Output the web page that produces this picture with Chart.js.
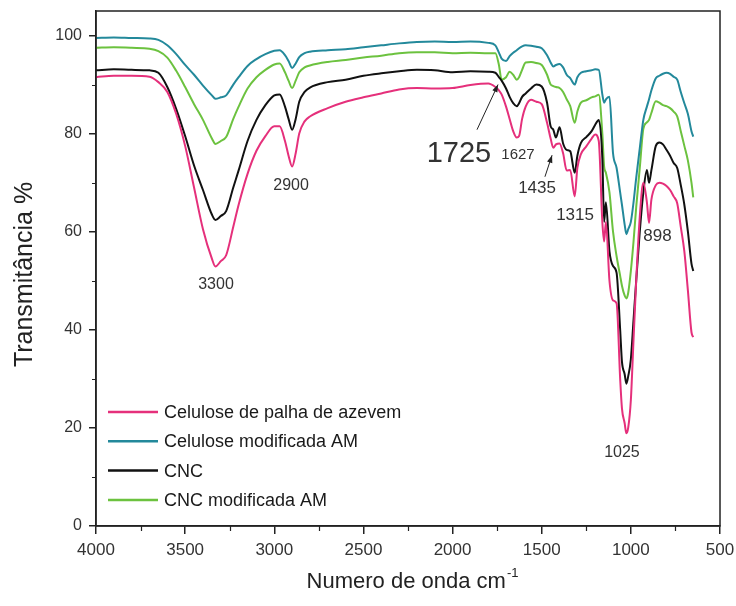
<!DOCTYPE html>
<html>
<head>
<meta charset="utf-8">
<style>
  html, body { margin: 0; padding: 0; background: #ffffff; }
  #wrap { width: 736px; height: 606px; }
</style>
<script src="https://cdn.jsdelivr.net/npm/chart.js@4.4.1/dist/chart.umd.min.js"></script>
</head>
<body>
<div id="wrap"><canvas id="ftir" width="736" height="606"></canvas></div>
<script>
// FTIR spectra: wavenumber (cm-1) and transmittance (%) for each sample
const wavenumbers = [
  4000, 3900, 3800, 3700, 3650, 3600, 3550, 3500, 3450, 3400,
  3350, 3330, 3300, 3270, 3230, 3200, 3150, 3100, 3050, 3000,
  2970, 2940, 2920, 2900, 2880, 2860, 2830, 2800,
  2700, 2600, 2500, 2400, 2300, 2200, 2100, 2000, 1900, 1800,
  1760, 1740, 1725, 1700, 1680, 1660, 1640, 1627, 1610, 1590,
  1560, 1530, 1500, 1470, 1450, 1435, 1420, 1400, 1380, 1360,
  1340, 1315, 1300, 1280, 1250, 1220, 1200, 1180, 1160, 1150,
  1140, 1120, 1100, 1080, 1060, 1050, 1035, 1025, 1015, 1000,
  985, 970, 950, 930, 910, 898, 885, 860, 840, 820,
  800, 780, 760, 740, 720, 700, 680, 660, 650
];

const celulosePalha = [
  91.5, 91.8, 91.8, 91.6, 90.5, 88.5, 84.0, 77.5, 69.0, 60.5,
  54.5, 52.9, 54.0, 55.2, 61.0, 65.5, 71.8, 76.5, 79.5, 81.5,
  81.5, 78.5, 75.5, 73.3, 76.0, 80.0, 82.5, 83.5,
  85.2, 86.5, 87.4, 88.2, 89.0, 89.3, 89.2, 89.3, 89.9, 90.2,
  89.5, 88.8, 88.0, 85.5, 83.0, 80.5, 79.2, 79.5, 83.0, 85.5,
  86.9, 86.5, 86.0, 82.2, 79.0, 77.1, 77.8, 78.0, 76.0, 72.5,
  72.6, 67.2, 73.0, 75.8, 77.4, 79.0, 79.8, 78.5, 62.0, 58.0,
  62.0, 50.0, 46.0, 45.4, 30.0, 24.0, 21.0, 18.9, 20.0, 25.7,
  38.0, 50.0, 63.0, 70.0, 66.0, 61.8, 66.5, 69.5, 70.0, 69.8,
  69.3, 68.5, 67.2, 65.8, 61.0, 56.0, 48.0, 39.5, 38.5
];

const celuloseModificada = [
  99.5, 99.6, 99.5, 99.4, 99.1, 98.0, 96.2, 94.0, 92.0, 89.8,
  87.8, 87.1, 87.4, 87.8, 90.0, 91.5, 93.8, 95.2, 96.2, 96.9,
  97.0, 96.0, 94.8, 93.4, 94.3, 95.6, 96.4, 96.7,
  97.0, 97.2, 97.6, 98.0, 98.4, 98.7, 98.8, 98.7, 98.8, 98.5,
  98.0, 96.5, 95.3, 94.8, 95.8, 96.5, 97.0, 97.4, 97.8, 98.0,
  97.9, 97.7, 97.4, 96.0, 94.5, 93.7, 94.0, 94.2, 93.5, 92.0,
  91.3, 90.0, 91.5, 92.4, 92.7, 92.9, 93.1, 93.0, 88.0, 86.3,
  87.0, 87.5, 76.0, 73.0, 68.0, 65.5, 61.5, 59.5, 60.5, 62.0,
  66.0, 71.0, 77.0, 82.8, 85.5, 87.0, 88.8, 91.3, 91.8, 92.2,
  92.4, 92.2, 91.6, 91.0, 88.5, 86.2, 84.0, 80.5, 79.4
];

const cnc = [
  92.9, 93.1, 93.0, 92.9, 92.4, 89.5, 85.0, 79.5, 73.5, 68.5,
  63.5, 62.4, 63.2, 64.2, 69.0, 72.5, 78.5, 82.8, 85.8, 87.8,
  88.0, 85.5, 83.0, 80.8, 83.0, 86.5, 88.5, 89.4,
  90.5, 91.0, 91.8, 92.3, 92.7, 93.0, 92.9, 92.5, 92.7, 92.6,
  92.4, 91.5, 90.8, 89.2, 87.5, 86.2, 85.6, 86.2, 87.5, 88.2,
  89.2, 90.0, 89.6, 86.3, 81.5, 80.8, 79.2, 81.3, 78.0, 76.7,
  76.4, 72.0, 75.5, 78.1, 79.3, 80.5, 81.8, 82.8, 75.0, 62.0,
  66.0, 56.0, 53.0, 51.6, 40.0, 33.5, 31.0, 29.0, 30.5, 34.0,
  42.0, 50.0, 60.0, 68.0, 72.6, 70.0, 72.5, 77.5, 78.2, 77.8,
  76.7, 75.5, 74.0, 73.0, 69.5, 65.5, 60.0, 53.5, 52.0
];

const cncModificada = [
  97.5, 97.6, 97.5, 97.3, 96.8, 95.5, 92.8, 89.5, 86.0, 82.8,
  79.0, 77.9, 78.5, 79.3, 83.0, 85.5, 89.2, 91.5, 93.0, 94.1,
  94.3, 92.5, 90.8, 89.3, 90.8, 92.5, 93.5, 93.9,
  94.6, 95.0, 95.5, 95.9, 96.4, 96.6, 96.6, 96.4, 96.5, 96.4,
  96.4, 94.0, 91.0, 91.5, 92.6, 92.0, 91.0, 91.5, 93.0, 94.5,
  94.6, 94.4, 94.0, 92.0, 90.0, 89.7, 89.5, 89.3, 88.5, 87.0,
  85.6, 82.2, 84.5, 86.3, 86.8, 87.4, 87.6, 87.9, 80.0, 73.3,
  72.0, 68.0, 60.0, 55.0, 51.0, 49.0, 47.0, 46.4, 47.5, 52.0,
  58.0, 65.0, 73.0, 81.0, 82.3, 82.8, 84.2, 86.6, 86.3, 85.8,
  85.6, 85.2, 84.5, 83.5, 80.5, 77.5, 74.5, 70.0, 67.0
];

const seriesNames = [
  'Celulose de palha de azevem',
  'Celulose modificada AM',
  'CNC',
  'CNC modificada AM'
];
const seriesColors = ['#e5307b', '#23899b', '#111111', '#6cc23f'];
const seriesValues = [celulosePalha, celuloseModificada, cnc, cncModificada];

// Axis ticks
const xTickValues = [4000, 3500, 3000, 2500, 2000, 1500, 1000, 500];
const xMinorTicks = [3750, 3250, 2750, 2250, 1750, 1250, 750];
const yTickValues = [0, 20, 40, 60, 80, 100];
const yMinorTicks = [10, 30, 50, 70, 90];

// Band assignments written on the plot (anchored in data units)
const peakLabels = [
  { text: '3300', w: 3327, t: 49.2, size: 16 },
  { text: '2900', w: 2906, t: 69.4, size: 16 },
  { text: '1725', w: 1964, t: 75.9, size: 29 },
  { text: '1627', w: 1633, t: 75.7, size: 15 },
  { text: '1435', w: 1526, t: 68.9, size: 17 },
  { text: '1315', w: 1313, t: 63.4, size: 17 },
  { text: '898',  w: 851,  t: 59.0, size: 17 },
  { text: '1025', w: 1050, t: 15.0, size: 16 }
];
const peakArrows = [
  { from: [1863, 80.8], to: [1745, 90.0] },
  { from: [1482, 71.2], to: [1442, 75.6] }
];

const FONT = "'Liberation Sans', Arial, sans-serif";

const frameAndExtras = {
  id: 'frameAndExtras',
  afterDraw(chart) {
    const ctx = chart.ctx;
    const a = chart.chartArea;
    const xs = chart.scales.x, ys = chart.scales.y;
    ctx.save();

    // plot frame
    ctx.strokeStyle = '#222';
    ctx.lineWidth = 1.5;
    ctx.strokeRect(a.left, a.top, a.right - a.left, a.bottom - a.top);

    // minor ticks
    ctx.lineWidth = 1.2;
    ctx.beginPath();
    xMinorTicks.forEach(v => {
      const px = Math.round(xs.getPixelForValue(v)) + 0.5;
      ctx.moveTo(px, a.bottom);
      ctx.lineTo(px, a.bottom + 5);
    });
    yMinorTicks.forEach(v => {
      const py = Math.round(ys.getPixelForValue(v)) + 0.5;
      ctx.moveTo(a.left, py);
      ctx.lineTo(a.left - 4, py);
    });
    ctx.stroke();

    // axis titles
    ctx.fillStyle = '#222';
    ctx.save();
    ctx.translate(25, (a.top + a.bottom) / 2 + 6);
    ctx.rotate(-Math.PI / 2);
    ctx.font = '25px ' + FONT;
    ctx.textAlign = 'center';
    ctx.textBaseline = 'middle';
    ctx.fillText('Transmitância %', 0, 0);
    ctx.restore();

    const mainTitle = 'Numero de onda cm';
    const sup = '-1';
    ctx.font = '22px ' + FONT;
    const wMain = ctx.measureText(mainTitle).width;
    ctx.font = '13px ' + FONT;
    const wSup = ctx.measureText(sup).width;
    const startX = (a.left + a.right) / 2 + 4 - (wMain + wSup) / 2;
    ctx.textAlign = 'left';
    ctx.textBaseline = 'alphabetic';
    ctx.font = '22px ' + FONT;
    ctx.fillText(mainTitle, startX, 588);
    ctx.font = '13px ' + FONT;
    ctx.fillText(sup, startX + wMain + 1, 577);

    // legend
    ctx.font = '18px ' + FONT;
    ctx.textBaseline = 'middle';
    seriesNames.forEach((name, i) => {
      const y = 412 + i * 29.3;
      ctx.strokeStyle = seriesColors[i];
      ctx.lineWidth = 2.5;
      ctx.beginPath();
      ctx.moveTo(a.left + 12, y);
      ctx.lineTo(a.left + 62, y);
      ctx.stroke();
      ctx.fillStyle = '#1a1a1a';
      ctx.fillText(name, a.left + 68, y + 1);
    });

    // band labels
    ctx.fillStyle = '#333';
    ctx.textAlign = 'center';
    ctx.textBaseline = 'middle';
    peakLabels.forEach(p => {
      ctx.font = p.size + 'px ' + FONT;
      ctx.fillText(p.text, xs.getPixelForValue(p.w), ys.getPixelForValue(p.t));
    });

    // arrows
    ctx.strokeStyle = '#222';
    ctx.fillStyle = '#222';
    ctx.lineWidth = 1;
    peakArrows.forEach(ar => {
      const x1 = xs.getPixelForValue(ar.from[0]), y1 = ys.getPixelForValue(ar.from[1]);
      const x2 = xs.getPixelForValue(ar.to[0]), y2 = ys.getPixelForValue(ar.to[1]);
      const ang = Math.atan2(y2 - y1, x2 - x1);
      ctx.beginPath();
      ctx.moveTo(x1, y1);
      ctx.lineTo(x2, y2);
      ctx.stroke();
      ctx.beginPath();
      ctx.moveTo(x2, y2);
      ctx.lineTo(x2 - 8 * Math.cos(ang - 0.35), y2 - 8 * Math.sin(ang - 0.35));
      ctx.lineTo(x2 - 8 * Math.cos(ang + 0.35), y2 - 8 * Math.sin(ang + 0.35));
      ctx.closePath();
      ctx.fill();
    });

    ctx.restore();
  }
};

const datasets = seriesNames.map((name, i) => ({
  label: name,
  data: wavenumbers.map((w, k) => ({ x: w, y: seriesValues[i][k] })),
  borderColor: seriesColors[i],
  backgroundColor: seriesColors[i],
  borderWidth: 2,
  pointRadius: 0,
  fill: false,
  cubicInterpolationMode: 'monotone'
}));

new Chart(document.getElementById('ftir'), {
  type: 'line',
  data: { datasets },
  options: {
    responsive: false,
    animation: false,
    devicePixelRatio: 1,
    layout: { padding: { top: 11, right: 16, left: 0, bottom: 0 } },
    plugins: {
      legend: { display: false },
      tooltip: { enabled: false }
    },
    scales: {
      x: {
        type: 'linear',
        reverse: true,
        min: 500,
        max: 4000,
        afterBuildTicks: s => { s.ticks = xTickValues.map(v => ({ value: v })); },
        afterFit: s => { s.height = 80; s.paddingLeft = 0; s.paddingRight = 0; },
        ticks: {
          font: { family: FONT, size: 17 },
          color: '#333',
          padding: 6,
          maxRotation: 0,
          autoSkip: false,
          callback: v => String(v)
        },
        grid: { drawOnChartArea: false, drawTicks: true, tickLength: 8, color: '#222', lineWidth: 1.5 },
        border: { display: true, color: '#222', width: 1.5 }
      },
      y: {
        type: 'linear',
        min: 0,
        max: 105,
        afterBuildTicks: s => { s.ticks = yTickValues.map(v => ({ value: v })); },
        afterFit: s => { s.width = 96; s.paddingTop = 0; s.paddingBottom = 0; },
        ticks: {
          font: { family: FONT, size: 16 },
          color: '#333',
          padding: 7,
          callback: v => String(v)
        },
        grid: { drawOnChartArea: false, drawTicks: true, tickLength: 7, color: '#222', lineWidth: 1.5 },
        border: { display: true, color: '#222', width: 1.5 }
      }
    }
  },
  plugins: [frameAndExtras]
});
</script>
</body>
</html>
